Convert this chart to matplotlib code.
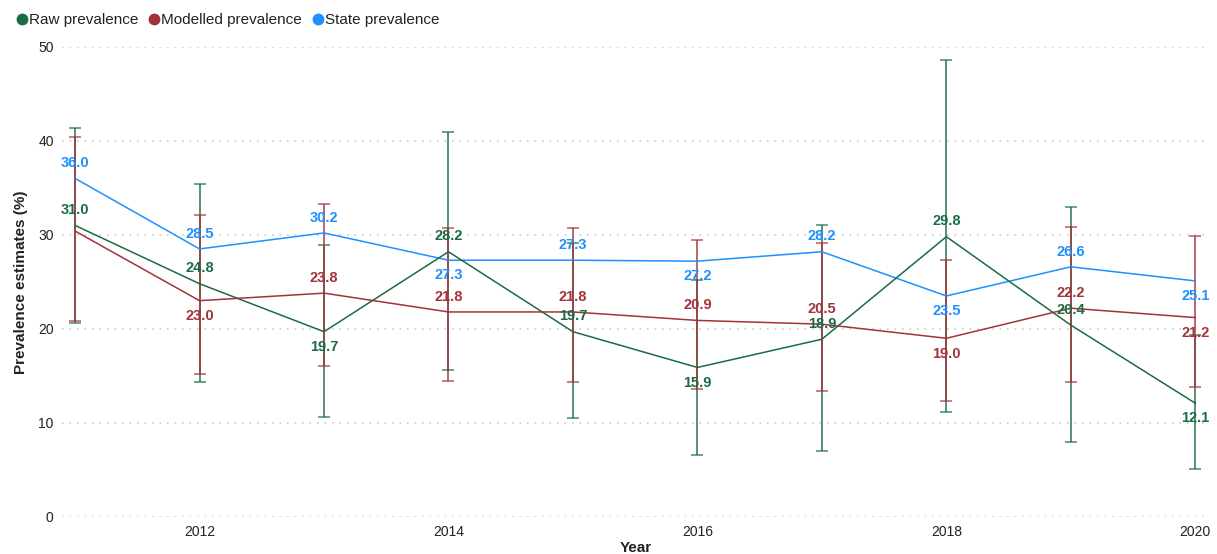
import numpy as np
import matplotlib
matplotlib.use("Agg")
import matplotlib.pyplot as plt
from matplotlib.lines import Line2D

plt.rcParams['font.family'] = ['Liberation Sans', 'DejaVu Sans']

# Données
years = [2011, 2012, 2013, 2014, 2015, 2016, 2017, 2018, 2019, 2020]

raw = [31.0, 24.8, 19.7, 28.2, 19.7, 15.9, 18.9, 29.8, 20.4, 12.1]
raw_low = [20.6, 14.4, 10.6, 15.6, 10.5, 6.6, 7.0, 11.2, 8.0, 5.1]
raw_high = [41.4, 35.4, 28.9, 40.9, 29.1, 25.2, 31.0, 48.6, 33.0, 19.3]

modelled = [30.4, 23.0, 23.8, 21.8, 21.8, 20.9, 20.5, 19.0, 22.2, 21.2]
mod_low = [20.8, 15.2, 16.1, 14.5, 14.4, 13.6, 13.4, 12.3, 14.3, 13.8]
mod_high = [40.4, 32.1, 33.3, 30.7, 30.7, 29.5, 29.1, 27.3, 30.8, 29.9]

state = [36.0, 28.5, 30.2, 27.3, 27.3, 27.2, 28.2, 23.5, 26.6, 25.1]

# Position des étiquettes : 1 = au-dessus, -1 = en dessous, 0 = aucune
raw_pos = [1, 1, -1, 1, 1, -1, 1, 1, 1, -1]
mod_pos = [0, -1, 1, 1, 1, 1, 1, -1, 1, -1]
state_pos = [1, 1, 1, -1, 1, -1, 1, -1, 1, -1]

GREEN = '#1b6b45'
RED = '#a3323a'
BLUE = '#1e90ff'

fig = plt.figure(figsize=(12.17, 5.54), dpi=100)
ax = fig.add_axes([62 / 1217, 37 / 554, (1209 - 62) / 1217, (517 - 46.7) / 554])


def draw_series(values, low, high, color, pos):
    values = np.array(values)
    if low is not None:
        yerr = np.vstack([values - np.array(low), np.array(high) - values])
        ax.errorbar(years, values, yerr=yerr, fmt='none', ecolor=color,
                    elinewidth=1.3, capsize=4.5, capthick=1.1, alpha=0.8, zorder=2)
    ax.plot(years, values, color=color, lw=1.1, zorder=3)
    for x, v, p in zip(years, values, pos):
        if p == 0:
            continue
        ax.annotate(f'{v:.1f}', (x, v), xytext=(0, 11 * p), textcoords='offset points',
                    ha='center', va='center', color=color, fontsize=10.5,
                    fontweight='bold', zorder=5)


draw_series(state, None, None, BLUE, state_pos)
draw_series(raw, raw_low, raw_high, GREEN, raw_pos)
draw_series(modelled, mod_low, mod_high, RED, mod_pos)

ax.set_xlim(2010.895, 2020.11)
ax.set_ylim(0, 50)
ax.set_xticks([2012, 2014, 2016, 2018, 2020])
ax.set_yticks([0, 10, 20, 30, 40, 50])
ax.tick_params(length=0, labelsize=10, colors='#222222', pad=6)
ax.grid(axis='y', color='#cccccc', linestyle=(0, (1, 3.5)), linewidth=1.2)
for s in ax.spines.values():
    s.set_visible(False)

ax.set_xlabel('Year', fontsize=11, fontweight='bold', color='#222222', labelpad=1)
ax.set_ylabel('Prevalence estimates (%)', fontsize=11, fontweight='bold',
              color='#222222', labelpad=7)

handles = [Line2D([], [], marker='o', linestyle='none', color=c, markersize=7.5)
           for c in (GREEN, RED, BLUE)]
fig.legend(handles, ['Raw prevalence', 'Modelled prevalence', 'State prevalence'],
           loc='upper left', bbox_to_anchor=(0.0, 0.995), ncol=3, frameon=False,
           fontsize=11, handletextpad=-0.3, columnspacing=0.3, handlelength=1.5,
           labelcolor='#222222', borderaxespad=0.3)

fig.savefig('out.png', dpi=100)
